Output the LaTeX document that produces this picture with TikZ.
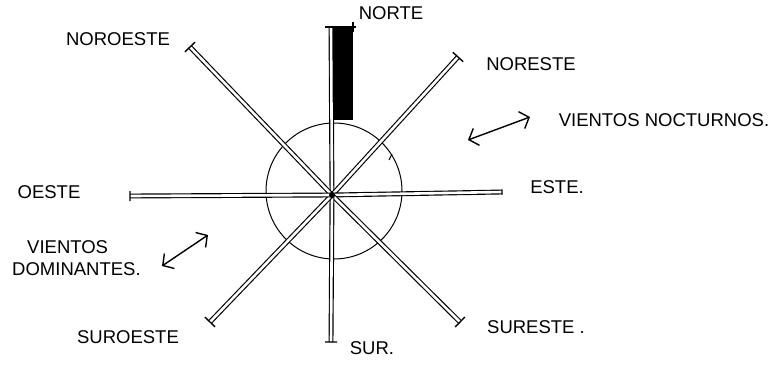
\documentclass[tikz,border=0pt]{standalone}
\usepackage{fontspec}
\setmainfont{Liberation Sans}
\usetikzlibrary{arrows.meta,calc}
\begin{document}
\begin{tikzpicture}[x=1pt,y=-1pt,
  ray/.style={draw=black, double=white, double distance=2.6pt, line width=1.15pt},
  endtick/.style={line width=1.4pt},
  lbl/.style={font=\fontsize{18.5}{20}\selectfont, inner sep=0pt},
  wind/.style={line width=1.4pt, {Straight Barb[length=8pt,width=18pt]}-{Straight Barb[length=8pt,width=18pt]}},
]
\useasboundingbox[fill=white] (0,0) rectangle (784,367);
% centre and ray ends
\coordinate (c) at (332,195);
\coordinate (n) at (331,28);
\coordinate (nw) at (190,47);
\coordinate (ne) at (458,57);
\coordinate (e) at (502,192);
\coordinate (se) at (460,322);
\coordinate (s) at (331,342);
\coordinate (sw) at (210,322);
\coordinate (w) at (130,196);
% circle
\node[draw, circle, line width=1pt, minimum size=136pt, inner sep=0pt] (ring) at (334,191) {};
% north bar
\node[fill=black, draw=black, minimum width=19pt, minimum height=91pt, inner sep=0pt, anchor=north west] (bar) at (333,28) {};
% rays
\foreach \p in {n,nw,ne,e,se,s,sw,w} {\draw[ray] (c) -- (\p);}
\fill (c) circle (3pt);
% end ticks
\draw[endtick] (325,27) -- (356,27);
\draw[endtick] (353,22) -- (353,32);
\foreach \p in {nw,ne,se,sw} {\draw[endtick] ($(\p)!7pt!90:(c)$) -- ($(\p)!7pt!-90:(c)$);}
\draw[endtick] ($(e)!2.6pt!90:(c)$) -- ($(e)!2.6pt!-90:(c)$);
\draw[endtick] ($(w)!5pt!90:(c)$) -- ($(w)!5pt!-90:(c)$);
\draw[endtick] ($(s)!6pt!90:(c)$) -- ($(s)!6pt!-90:(c)$);
\draw[line width=1pt] (389,160) -- (392,154);
% labels
\node[lbl] (lN) at (391,13) {NORTE};
\node[lbl] (lNW) at (118,39) {NOROESTE};
\node[lbl] (lNE) at (531,64) {NORESTE};
\node[lbl] (lE) at (557,187) {ESTE.};
\node[lbl] (lW) at (49,192) {OESTE};
\node[lbl] (lSW) at (128,337) {SUROESTE};
\node[lbl] (lSE) at (536,327) {SURESTE .};
\node[lbl] (lS) at (372,348) {SUR.};
\node[lbl] (lVN) at (664,120) {VIENTOS NOCTURNOS.};
\node[lbl, align=left, anchor=west] (lVD) at (12,258) {\hspace*{15pt}VIENTOS\\[2pt]DOMINANTES.};
% wind arrows
\coordinate (vn1) at (468,140);
\coordinate (vn2) at (530,117);
\draw[wind] (vn1) -- (vn2);
\coordinate (vd1) at (162,266);
\coordinate (vd2) at (208,235);
\draw[wind] (vd1) -- (vd2);
\end{tikzpicture}
\end{document}
